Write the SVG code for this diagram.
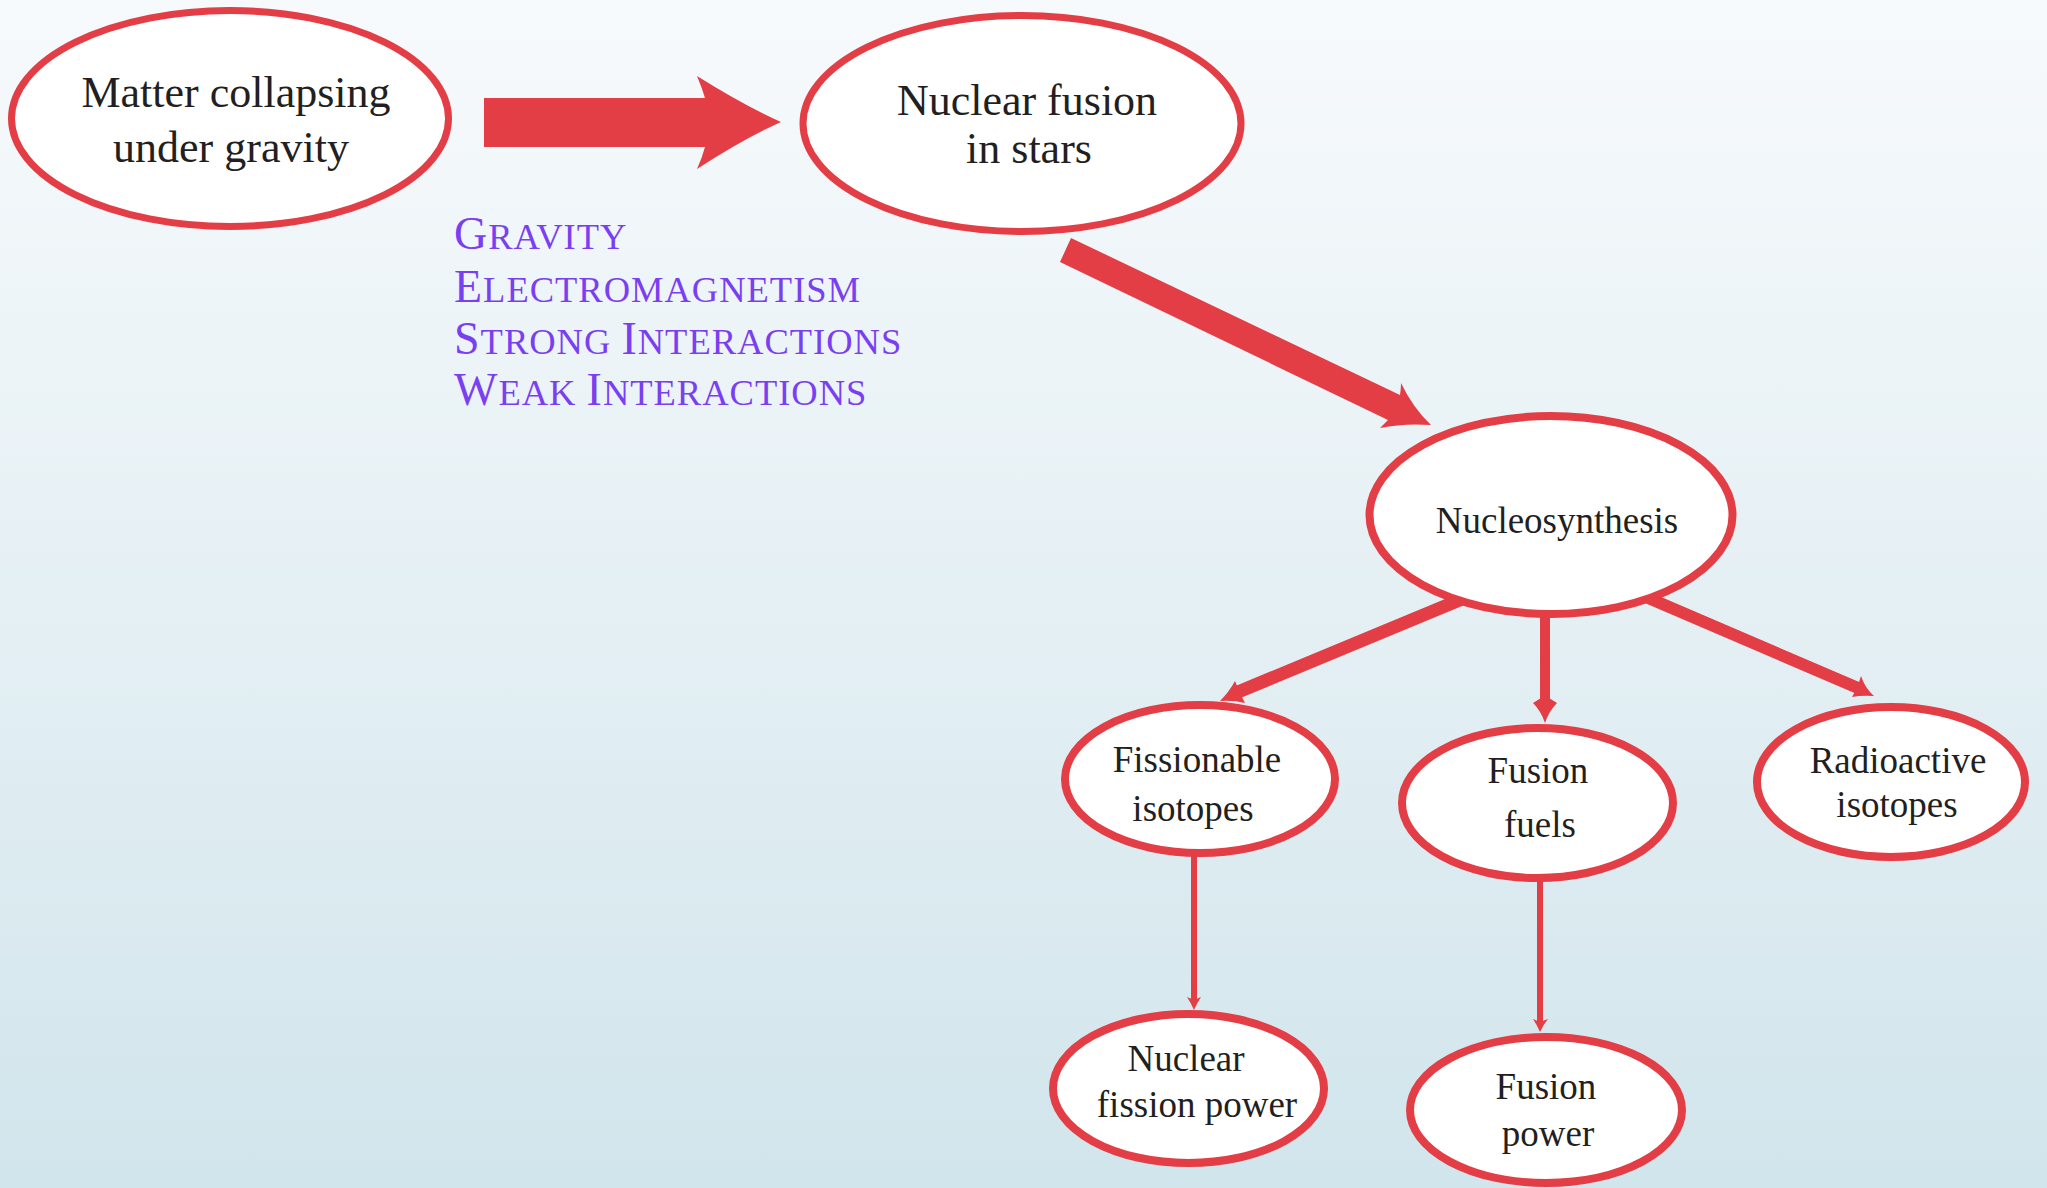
<svg xmlns="http://www.w3.org/2000/svg" width="2047" height="1188" viewBox="0 0 2047 1188">
  <defs>
    <linearGradient id="bg" x1="0" y1="0" x2="0" y2="1">
      <stop offset="0" stop-color="#f7fafc"/>
      <stop offset="0.5" stop-color="#e5f0f4"/>
      <stop offset="1" stop-color="#d1e5ec"/>
    </linearGradient>
    <style>
      .node { fill: #ffffff; stroke: #e33d46; }
      .big { stroke-width: 7; }
      .small { stroke-width: 8; }
      .label { font-family: "Liberation Serif", "Times New Roman", serif; fill: #231f20; text-anchor: middle; }
      .l44 { font-size: 44px; }
      .l37 { font-size: 37px; }
      .force { font-family: "Liberation Serif", "Times New Roman", serif; fill: #7b3ff2; font-size: 36.5px; letter-spacing: 1px; }
      .cap { font-size: 46px; }
      .fill { fill: #e33d46; stroke: none; }
      .shaft { stroke: #e33d46; fill: none; stroke-linecap: butt; }
    </style>
  </defs>

  <rect x="0" y="0" width="2047" height="1188" fill="url(#bg)"/>

  <!-- connectors -->
  <g id="connectors">
    <!-- collapse -> fusion -->
    <path class="fill" d="M484,98 H705 Q702,88 697,76 Q745,106 781,122 Q745,138 697,169 Q702,158 705,147 H484 Z"/>
    <!-- fusion -> nucleosynthesis -->
    <path class="fill" d="M1071,238 L1400,395 Q1401,389 1401,383 Q1413,408 1431,425 Q1404,423 1380,428 Q1384,424 1388,420 L1060,262 Z"/>
    <!-- nucleosynthesis -> fissionable -->
    <line class="shaft" x1="1462" y1="599" x2="1238" y2="692" stroke-width="13"/>
    <path class="fill" d="M1235,681 Q1229,692 1220,701 Q1233,700 1245,703 L1240,693 Z"/>
    <!-- nucleosynthesis -> fusion fuels -->
    <line class="shaft" x1="1545" y1="605" x2="1545" y2="706" stroke-width="10"/>
    <path class="fill" d="M1533,703 L1541,698 L1549,698 L1557,703 Q1549,711 1545,723 Q1541,711 1533,703 Z"/>
    <!-- nucleosynthesis -> radioactive -->
    <line class="shaft" x1="1646" y1="597" x2="1858" y2="688" stroke-width="12"/>
    <path class="fill" d="M1861,676 Q1865,688 1874,696 Q1862,695 1852,697 L1857,688 Z"/>
    <!-- fissionable -> fission power -->
    <line class="shaft" x1="1194" y1="850" x2="1194" y2="1000" stroke-width="6"/>
    <path class="fill" d="M1187,997 L1194,1000 L1201,997 Q1197,1003 1194,1010 Q1191,1003 1187,997 Z"/>
    <!-- fusion fuels -> fusion power -->
    <line class="shaft" x1="1540" y1="875" x2="1540" y2="1022" stroke-width="6"/>
    <path class="fill" d="M1533,1019 L1540,1022 L1548,1019 Q1543,1025 1540,1032 Q1537,1025 1533,1019 Z"/>
  </g>

  <!-- forces acting -->
  <g id="forces">
    <text class="force" x="454" y="249"><tspan class="cap">G</tspan>RAVITY</text>
    <text class="force" x="454" y="302"><tspan class="cap">E</tspan>LECTROMAGNETISM</text>
    <text class="force" x="454" y="354"><tspan class="cap">S</tspan>TRONG <tspan class="cap">I</tspan>NTERACTIONS</text>
    <text class="force" x="454" y="405"><tspan class="cap">W</tspan>EAK <tspan class="cap">I</tspan>NTERACTIONS</text>
  </g>

  <!-- nodes -->
  <g id="matter-collapsing">
    <ellipse class="node big" cx="230" cy="118.5" rx="218.5" ry="108"/>
    <text class="label l44" x="236" y="107">Matter collapsing</text>
    <text class="label l44" x="231" y="162">under gravity</text>
  </g>

  <g id="nuclear-fusion">
    <ellipse class="node big" cx="1022" cy="123.5" rx="219" ry="108"/>
    <text class="label l44" x="1027" y="115">Nuclear fusion</text>
    <text class="label l44" x="1029" y="163">in stars</text>
  </g>

  <g id="nucleosynthesis">
    <ellipse class="node small" cx="1551" cy="515" rx="181.5" ry="99"/>
    <text class="label l37" x="1557" y="533">Nucleosynthesis</text>
  </g>

  <g id="fissionable-isotopes">
    <ellipse class="node small" cx="1200" cy="779" rx="135" ry="74"/>
    <text class="label l37" x="1197" y="772">Fissionable</text>
    <text class="label l37" x="1193" y="821">isotopes</text>
  </g>

  <g id="fusion-fuels">
    <ellipse class="node small" cx="1537.5" cy="803" rx="135.5" ry="75"/>
    <text class="label l37" x="1538" y="783">Fusion</text>
    <text class="label l37" x="1540" y="837">fuels</text>
  </g>

  <g id="radioactive-isotopes">
    <ellipse class="node small" cx="1891" cy="782" rx="134" ry="75"/>
    <text class="label l37" x="1898" y="773">Radioactive</text>
    <text class="label l37" x="1897" y="817">isotopes</text>
  </g>

  <g id="fission-power">
    <ellipse class="node small" cx="1188.5" cy="1088.5" rx="135.5" ry="74.5"/>
    <text class="label l37" x="1186" y="1071">Nuclear</text>
    <text class="label l37" x="1197" y="1117">fission power</text>
  </g>

  <g id="fusion-power">
    <ellipse class="node small" cx="1546" cy="1110" rx="136" ry="73"/>
    <text class="label l37" x="1546" y="1099">Fusion</text>
    <text class="label l37" x="1548" y="1146">power</text>
  </g>
</svg>
